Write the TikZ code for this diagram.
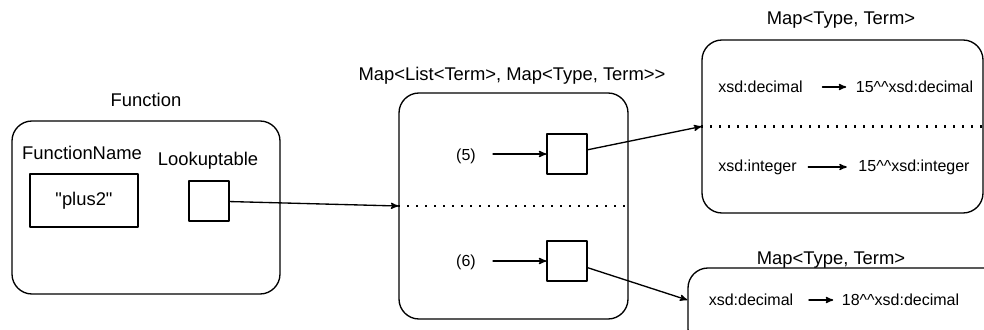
\documentclass[tikz,border=0pt]{standalone}
\usepackage{fontspec}
\setmainfont{Liberation Sans}
\usetikzlibrary{arrows}
\newcommand{\hats}{\textasciicircum\textasciicircum}

\begin{document}
\begin{tikzpicture}[line cap=round,line join=round,>=stealth',x=0.75pt,y=0.75pt,line width=1pt,
  every node/.style={font=\fontsize{13.8}{16}\selectfont},
  box/.style={draw,rounded corners=15pt},
  cell/.style={draw,minimum size=30pt,inner sep=0pt},
  entry/.style={font=\fontsize{12}{14}\selectfont,inner sep=0pt},
  sep/.style={line width=1.6pt,line cap=butt,dash pattern=on 1.6pt off 5.15pt}]
\clip (0,0) rectangle (984,329);

%Function
\node (func) [box,minimum width=201pt,minimum height=129.75pt] at (146,121.5) {};
\node (functitle) at (146,229) {Function};
\node (fname) at (82,176) {FunctionName};
\node (plus) [draw,minimum width=81pt,minimum height=39.75pt] at (84,128.5) {\textquotedbl plus2\textquotedbl};
\node (ltname) at (208,168) {Lookuptable};
\node (lookup) [cell] at (209,128) {};

%Map<List<Term>, ...>
\node (outer) [box,minimum width=171.75pt,minimum height=169.5pt] at (513.5,123) {};
\node (outertitle) at (512,253) {Map<List<Term>, Map<Type, Term>{}>};
\draw[sep] (outer.west) -- (outer.east);
\node (k5) [entry] at (466,173) {(5)};
\node (v5) [cell] at (567,175) {};
\coordinate (a5) at (493,175);
\draw[->] (a5) -- (v5);
\node (k6) [entry] at (466,67) {(6)};
\node (v6) [cell] at (567,68) {};
\coordinate (a6) at (493,68);
\draw[->] (a6) -- (v6);

%Map<Type, Term> oben
\node (typeA) [box,minimum width=210.75pt,minimum height=129.75pt] at (842.5,202.5) {};
\node (typeAtitle) at (841,309) {Map<Type, Term>};
\draw[sep] (typeA.west) -- (typeA.east);
\node (decA) [entry] at (760.5,242) {xsd:decimal};
\node (decAval) [entry] at (914.5,242) {15\hats xsd:decimal};
\draw[->,shorten <=14.25pt,shorten >=6.75pt] (decA) -- (decAval);
\node (intA) [entry] at (757.5,162) {xsd:integer};
\node (intAval) [entry] at (914,162) {15\hats xsd:integer};
\draw[->,shorten <=8.25pt,shorten >=8.25pt] (intA) -- (intAval);

%Map<Type, Term> unten
\node (typeB) [box,minimum width=241.5pt,minimum height=60.75pt] at (849,20.5) {};
\node (typeBtitle) at (831,69) {Map<Type, Term>};
\node (decB) [entry] at (751,29) {xsd:decimal};
\node (decBval) [entry] at (900.5,29) {18\hats xsd:decimal};
\draw[->,shorten <=11.25pt,shorten >=6pt] (decB) -- (decBval);

%Verbindungen
\draw[->] (lookup) -- (outer.west);
\draw[->] (v5) -- (typeA.west);
\draw[->] (v6) -- (typeB.west |- decB);
\end{tikzpicture}
\end{document}
